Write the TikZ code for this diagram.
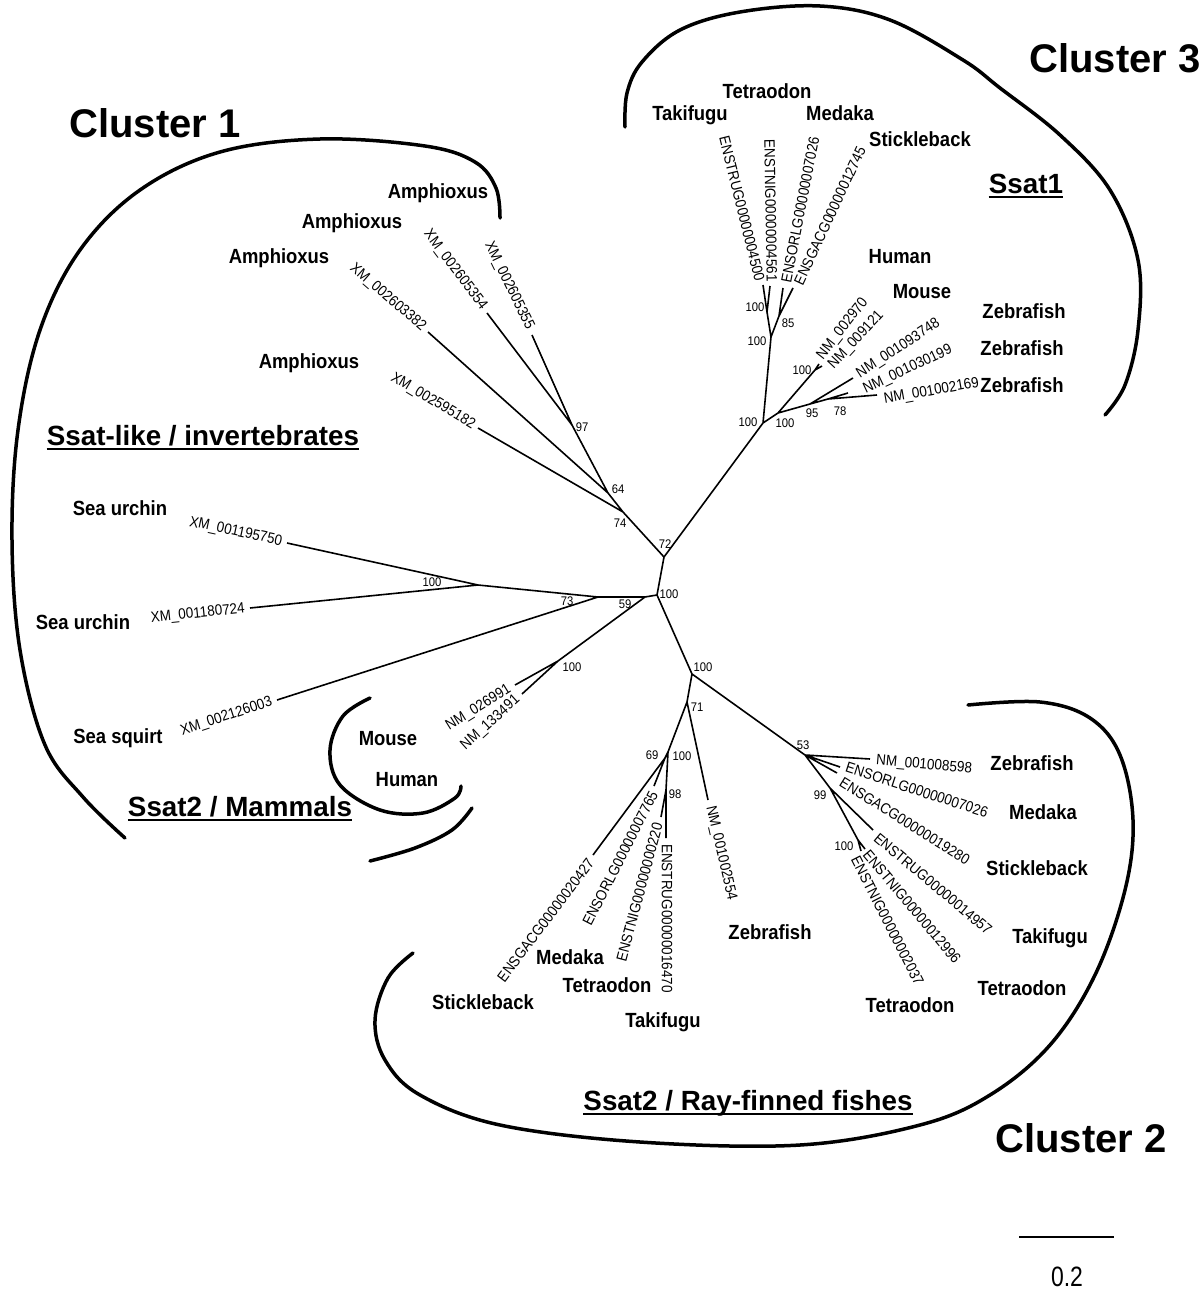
\documentclass[tikz,border=0pt]{standalone}
\usepackage{fontspec}
\setmainfont{Liberation Sans}
\newfontfamily\condf{Liberation Sans}[FakeStretch=0.9]
\newfontfamily\condg{Liberation Sans}[FakeStretch=0.82]
\begin{document}
\begin{tikzpicture}[x=1pt,y=-1pt,
  br/.style={line width=1.6pt},
  brk/.style={line width=3.5pt,line cap=round},
  acc/.style={font=\condf\fontsize{15}{15}\selectfont,inner sep=0pt},
  sp/.style={font=\condf\bfseries\fontsize{20.5}{20.5}\selectfont,inner sep=0pt},
  bs/.style={font=\condf\fontsize{12.5}{12.5}\selectfont,inner sep=0pt},
  clu/.style={font=\bfseries\fontsize{40}{40}\selectfont,inner sep=0pt},
  grp/.style={font=\bfseries\fontsize{27.8}{27.8}\selectfont,inner sep=0pt},
  ul/.style={line width=2pt}]
\useasboundingbox (0,0) rectangle (1203,1290);
% ---------- tree coordinates ----------
\coordinate (A) at (657,595);
\coordinate (B) at (664,557);
\coordinate (n74) at (623,512);
\coordinate (n64) at (608,493);
\coordinate (n97) at (572,425);
\coordinate (l355) at (532,335);
\coordinate (l354) at (487,313);
\coordinate (l382) at (428,332);
\coordinate (l182) at (478,428);
\coordinate (n59) at (645,597);
\coordinate (n73) at (598,597);
\coordinate (nSU) at (478,585);
\coordinate (l750) at (287,543);
\coordinate (l724) at (250,608);
\coordinate (l003) at (277,700);
\coordinate (nMam) at (558,661);
\coordinate (l991) at (515,685);
\coordinate (l491) at (522,694);
% cluster 3
\coordinate (C) at (763,423);
\coordinate (T) at (771,337);
\coordinate (P) at (767,312);
\coordinate (l4500) at (763,285);
\coordinate (l4561) at (770,286);
\coordinate (Q) at (779,316);
\coordinate (l7026t) at (783,288);
\coordinate (l12745) at (793,288);
\coordinate (D) at (778,413);
\coordinate (nMm) at (815,370);
\coordinate (l2970) at (819,364);
\coordinate (l9121) at (822,366);
\coordinate (E) at (810,404);
\coordinate (l3748) at (853,378);
\coordinate (F) at (828,399);
\coordinate (l0199) at (848,393);
\coordinate (l2169) at (877,395);
% cluster 2
\coordinate (G) at (692,674);
\coordinate (H) at (687,702);
\coordinate (I) at (668,752);
\coordinate (n69) at (665,758);
\coordinate (l20427) at (593,855);
\coordinate (l7765) at (654,786);
\coordinate (n98) at (666,790);
\coordinate (l220) at (661,817);
\coordinate (l16470) at (666,838);
\coordinate (l2554) at (708,800);
\coordinate (J) at (805,755);
\coordinate (l8598) at (870,759);
\coordinate (l7026b) at (840,767);
\coordinate (l19280) at (837,773);
\coordinate (n99) at (830,788);
\coordinate (l14957) at (873,830);
\coordinate (nTN) at (858,840);
\coordinate (l12996) at (865,849);
\coordinate (l2037) at (861,851);
% ---------- branches ----------
\draw[br] (A)--(B) (B)--(n74) (n74)--(n64) (n64)--(n97)
  (n97)--(l355) (n97)--(l354) (n64)--(l382) (n74)--(l182)
  (A)--(n59) (n59)--(n73) (n73)--(nSU) (nSU)--(l750) (nSU)--(l724) (n73)--(l003)
  (n59)--(nMam) (nMam)--(l991) (nMam)--(l491)
  (B)--(C) (C)--(T) (T)--(P) (P)--(l4500) (P)--(l4561) (T)--(Q) (Q)--(l7026t) (Q)--(l12745)
  (C)--(D) (D)--(nMm) (nMm)--(l2970) (nMm)--(l9121)
  (D)--(E) (E)--(l3748) (E)--(F) (F)--(l0199) (F)--(l2169)
  (A)--(G) (G)--(H) (H)--(l2554) (H)--(I) (I)--(n69) (n69)--(l20427) (n69)--(l7765)
  (I)--(n98) (n98)--(l220) (n98)--(l16470)
  (G)--(J) (J)--(l8598) (J)--(l7026b) (J)--(l19280) (J)--(n99) (n99)--(l14957)
  (n99)--(nTN) (nTN)--(l12996) (nTN)--(l2037);
% ---------- bootstrap values ----------
\node[bs] (bA) at (669,594) {100};
\node[bs] (b72) at (665,544) {72};
\node[bs] (b74) at (620,523) {74};
\node[bs] (b64) at (618,489) {64};
\node[bs] (b97) at (582,427) {97};
\node[bs] (bSU) at (432,582) {100};
\node[bs] (b73) at (567,601) {73};
\node[bs] (b59) at (625,604) {59};
\node[bs] (bMam) at (572,667) {100};
\node[bs] (bC) at (748,422) {100};
\node[bs] (bT) at (757,341) {100};
\node[bs] (bP) at (755,307) {100};
\node[bs] (b85) at (788,323) {85};
\node[bs] (bD) at (785,423) {100};
\node[bs] (bMm) at (802,370) {100};
\node[bs] (b95) at (812,413) {95};
\node[bs] (b78) at (840,411) {78};
\node[bs] (bG) at (703,667) {100};
\node[bs] (b71) at (697,707) {71};
\node[bs] (bI) at (682,756) {100};
\node[bs] (b69) at (652,755) {69};
\node[bs] (b98) at (675,794) {98};
\node[bs] (b53) at (803,745) {53};
\node[bs] (b99) at (820,795) {99};
\node[bs] (bTN) at (844,846) {100};
% ---------- accession labels ----------
\node[acc,anchor=east,rotate=-64] (t355) at (530,329) {XM\_002605355};
\node[acc,anchor=east,rotate=-53] (t354) at (484,308) {XM\_002605354};
\node[acc,anchor=east,rotate=-41] (t382) at (424,329) {XM\_002603382};
\node[acc,anchor=east,rotate=-31] (t182) at (474,426) {XM\_002595182};
\node[acc,anchor=east,rotate=-12] (t750) at (282,542) {XM\_001195750};
\node[acc,anchor=east,rotate=6] (t724) at (245,609) {XM\_001180724};
\node[acc,anchor=east,rotate=18] (t003) at (272,702) {XM\_002126003};
\node[acc,anchor=east,rotate=32] (t991) at (510,688) {NM\_026991};
\node[acc,anchor=east,rotate=42] (t491) at (518,698) {NM\_133491};
\node[acc,anchor=east,rotate=-76] (t4500) at (760,281) {ENSTRUG00000004500};
\node[acc,anchor=east,rotate=-89] (t4561) at (772,282) {ENSTNIG00000004561};
\node[acc,anchor=west,rotate=79] (t7026t) at (786,283) {ENSORLG00000007026};
\node[acc,anchor=west,rotate=65] (t12745) at (798,284) {ENSGACG00000012745};
\node[acc,anchor=west,rotate=52] (t2970) at (820,358) {NM\_002970};
\node[acc,anchor=west,rotate=47] (t9121) at (831,367) {NM\_009121};
\node[acc,anchor=west,rotate=33] (t3748) at (858,375) {NM\_001093748};
\node[acc,anchor=west,rotate=25] (t0199) at (864,390) {NM\_001030199};
\node[acc,anchor=west,rotate=10] (t2169) at (884,400) {NM\_001002169};
\node[acc,anchor=east,rotate=53] (t20427) at (591,860) {ENSGACG00000020427};
\node[acc,anchor=east,rotate=63] (t7765) at (654,792) {ENSORLG00000007765};
\node[acc,anchor=east,rotate=75] (t220) at (658,823) {ENSTNIG00000000220};
\node[acc,anchor=west,rotate=-90] (t16470) at (667,844) {ENSTRUG00000016470};
\node[acc,anchor=west,rotate=-77] (t2554) at (710,806) {NM\_001002554};
\node[acc,anchor=west,rotate=-5] (t8598) at (876,761) {NM\_001008598};
\node[acc,anchor=west,rotate=-18] (t7026b) at (846,767) {ENSORLG00000007026};
\node[acc,anchor=west,rotate=-32] (t19280) at (841,781) {ENSGACG00000019280};
\node[acc,anchor=west,rotate=-40] (t14957) at (876,836) {ENSTRUG00000014957};
\node[acc,anchor=west,rotate=-50] (t12996) at (866,852) {ENSTNIG00000012996};
\node[acc,anchor=west,rotate=-63] (t2037) at (855,857) {ENSTNIG00000002037};
% ---------- species ----------
\node[sp] (s1) at (438,193) {Amphioxus};
\node[sp] (s2) at (352,223) {Amphioxus};
\node[sp] (s3) at (279,258) {Amphioxus};
\node[sp] (s4) at (309,363) {Amphioxus};
\node[sp] (s5) at (120,508) {Sea urchin};
\node[sp] (s6) at (83,622) {Sea urchin};
\node[sp] (s7) at (118,738) {Sea squirt};
\node[sp] (s8) at (388,739) {Mouse};
\node[sp] (s9) at (407,780) {Human};
\node[sp] (s10) at (767,91) {Tetraodon};
\node[sp] (s11) at (690,115) {Takifugu};
\node[sp] (s12) at (840,113) {Medaka};
\node[sp] (s13) at (920,139) {Stickleback};
\node[sp] (s14) at (900,257) {Human};
\node[sp] (s15) at (922,292) {Mouse};
\node[sp] (s16) at (1024,311) {Zebrafish};
\node[sp] (s17) at (1022,348) {Zebrafish};
\node[sp] (s18) at (1022,385) {Zebrafish};
\node[sp] (s19) at (483,1002) {Stickleback};
\node[sp] (s20) at (570,957) {Medaka};
\node[sp] (s21) at (607,985) {Tetraodon};
\node[sp] (s22) at (663,1022) {Takifugu};
\node[sp] (s23) at (770,932) {Zebrafish};
\node[sp] (s24) at (1032,763) {Zebrafish};
\node[sp] (s25) at (1043,812) {Medaka};
\node[sp] (s26) at (1037,868) {Stickleback};
\node[sp] (s27) at (1050,938) {Takifugu};
\node[sp] (s28) at (1022,988) {Tetraodon};
\node[sp] (s29) at (910,1005) {Tetraodon};
% ---------- clusters & groups ----------
\node[clu] (c1) at (155,123) {Cluster 1};
\node[clu] (c3) at (1115,58) {Cluster 3};
\node[clu] (c2) at (1081,1138) {Cluster 2};
\node[grp,anchor=base] (g1) at (203,445) {Ssat-like / invertebrates};
\node[grp,anchor=base] (g2) at (240,816) {Ssat2 / Mammals};
\node[grp,anchor=base] (g3) at (748,1110) {Ssat2 / Ray-finned fishes};
\node[grp,anchor=base] (g4) at (1026,193) {Ssat1};
\foreach \g in {g1,g2,g3,g4}
  \draw[ul] ([yshift=-4pt]\g.base west) -- ([yshift=-4pt]\g.base east);
% ---------- brackets ----------
\draw[brk] plot[smooth,tension=0.6] coordinates {(500,218) (496,188) (475,162) (425,146) (320,139) (220,152) (140,190) (80,250) (40,330) (18,430) (12,540) (20,650) (45,745) (83,797) (125,838)};
\draw[brk] plot[smooth,tension=0.6] coordinates {(370,698) (343,716) (330,750) (340,785) (380,810) (423,813) (455,798) (461,786)};
\draw[brk] plot[smooth,tension=0.6] coordinates {(472,808) (452,830) (415,848) (370,861)};
\draw[brk] plot[smooth,tension=0.6] coordinates {(413,953) (388,978) (375,1020) (385,1060) (420,1095) (500,1125) (640,1142) (800,1145) (920,1125) (990,1095) (1050,1045) (1095,975) (1125,890) (1133,820) (1120,755) (1090,718) (1040,702) (968,705)};
\draw[brk] plot[smooth,tension=0.6] coordinates {(625,127) (627,93) (642,62) (680,30) (740,12) (820,6) (890,20) (963,60) (1000,88) (1060,135) (1110,190) (1138,260) (1138,330) (1125,385) (1105,415)};
% ---------- scale bar ----------
\coordinate (sb1) at (1019,1237);
\coordinate (sb2) at (1114,1237);
\draw[line width=2.2pt] (sb1) -- (sb2);
\node[font=\condg\fontsize{28}{28}\selectfont,inner sep=0pt] (sbl) at (1067,1277) {0.2};
\end{tikzpicture}
\end{document}
